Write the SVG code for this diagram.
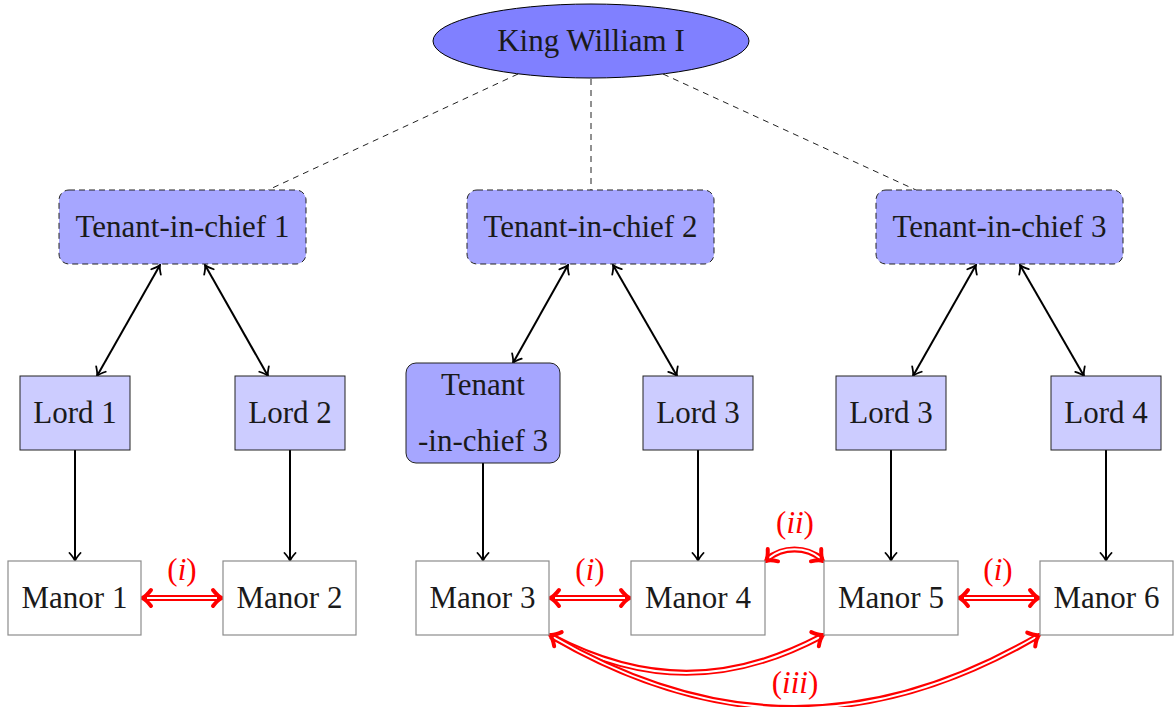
<svg xmlns="http://www.w3.org/2000/svg" width="1176" height="707" viewBox="0 0 1176 707">
<style>
.lbl{fill:#ff0000}
.it{font-style:italic}
.tic{fill:#a6a6ff;stroke:#222;stroke-width:1;stroke-dasharray:6 4}
.tic3{fill:#a6a6ff;stroke:#222;stroke-width:1}
.lord{fill:#ccccff;stroke:#222;stroke-width:1}
.manor{fill:#fff;stroke:#8c8c8c;stroke-width:1.2}
.dash{stroke:#222;stroke-width:1;stroke-dasharray:6 5;fill:none}
.arr{stroke:#000;stroke-width:2;fill:none;marker-start:url(#ah);marker-end:url(#ah)}
.down{stroke:#000;stroke-width:2;fill:none;marker-end:url(#ah)}
.rr{stroke:#ff0000;stroke-width:6;fill:none}
.rw{stroke:#fff;stroke-width:2;fill:none}
.rh{stroke:#ff0000;stroke-width:4;fill:none;stroke-linecap:round;stroke-linejoin:round}
</style>
<defs>
<marker id="ah" viewBox="-10 -7 12 14" refX="0" refY="0" markerWidth="12" markerHeight="14" markerUnits="userSpaceOnUse" orient="auto-start-reverse">
<path d="M-8,-5.5 Q-3,-1 0,0 Q-3,1 -8,5.5" stroke="#000" stroke-width="1.8" fill="none" stroke-linecap="round"/>
</marker>
<path id="rhd" d="M-9,-8 Q-4,-1.5 0,0 Q-4,1.5 -9,8"/>
</defs>

<g id="connectors">
<line class="dash" x1="518" y1="74" x2="268" y2="190"/>
<line class="dash" x1="591" y1="79" x2="591" y2="190"/>
<line class="dash" x1="663" y1="74" x2="916" y2="190"/>

<line class="arr" x1="160" y1="265" x2="97" y2="376"/>
<line class="arr" x1="205" y1="265" x2="268" y2="376"/>
<line class="arr" x1="568" y1="265" x2="513" y2="363"/>
<line class="arr" x1="613" y1="265" x2="677" y2="376"/>
<line class="arr" x1="976" y1="265" x2="913" y2="376"/>
<line class="arr" x1="1020" y1="265" x2="1084" y2="376"/>

<line class="down" x1="75" y1="450" x2="75" y2="561"/>
<line class="down" x1="290" y1="450" x2="290" y2="561"/>
<line class="down" x1="483" y1="463" x2="483" y2="561"/>
<line class="down" x1="698" y1="450" x2="698" y2="561"/>
<line class="down" x1="891" y1="450" x2="891" y2="561"/>
<line class="down" x1="1106" y1="450" x2="1106" y2="561"/>

<line class="rr" x1="145" y1="598" x2="219" y2="598"/>
<line class="rw" x1="147" y1="598" x2="217" y2="598"/>
<use href="#rhd" class="rh" transform="translate(142,598) rotate(180)"/>
<use href="#rhd" class="rh" transform="translate(222,598)"/>

<line class="rr" x1="553" y1="598" x2="627" y2="598"/>
<line class="rw" x1="555" y1="598" x2="625" y2="598"/>
<use href="#rhd" class="rh" transform="translate(550,598) rotate(180)"/>
<use href="#rhd" class="rh" transform="translate(630,598)"/>

<line class="rr" x1="962" y1="598" x2="1036" y2="598"/>
<line class="rw" x1="964" y1="598" x2="1034" y2="598"/>
<use href="#rhd" class="rh" transform="translate(959,598) rotate(180)"/>
<use href="#rhd" class="rh" transform="translate(1039,598)"/>

<path class="rr" d="M767,559.5 C782.6,546.2 806.4,546.2 822,559.5"/>
<path class="rw" d="M768.5,558.3 C782.6,546.2 806.4,546.2 820.5,558.3"/>
<use href="#rhd" class="rh" transform="translate(766,561) rotate(140)"/>
<use href="#rhd" class="rh" transform="translate(823,561) rotate(40)"/>

<path class="rr" d="M551,636 C644,685 729,685 822,636"/>
<path class="rw" d="M553,637 C644,685 729,685 820,637"/>
<path class="rr" d="M551,636 C716,732 873,732 1038,636"/>
<path class="rw" d="M553,637 C716,732 873,732 1036,637"/>
<use href="#rhd" class="rh" transform="translate(550,635) rotate(208)"/>
<use href="#rhd" class="rh" transform="translate(823,635) rotate(-28)"/>
<use href="#rhd" class="rh" transform="translate(1039,635) rotate(-30)"/>
</g>

<g id="labels">
<text class="lbl" font-family="Liberation Serif" font-size="31" text-anchor="middle" x="182" y="580">(<tspan class="it">i</tspan>)</text>
<text class="lbl" font-family="Liberation Serif" font-size="31" text-anchor="middle" x="590" y="580">(<tspan class="it">i</tspan>)</text>
<text class="lbl" font-family="Liberation Serif" font-size="31" text-anchor="middle" x="998" y="580">(<tspan class="it">i</tspan>)</text>
<text class="lbl" font-family="Liberation Serif" font-size="31" text-anchor="middle" x="795" y="533">(<tspan class="it">ii</tspan>)</text>
<text class="lbl" font-family="Liberation Serif" font-size="31" text-anchor="middle" x="795" y="693">(<tspan class="it">iii</tspan>)</text>
</g>

<g id="king">
<ellipse cx="591" cy="41" rx="158" ry="37" fill="#8080ff" stroke="#000" stroke-width="1"/>
<text font-family="Liberation Serif" font-size="31" text-anchor="middle" fill="#1a1a1a" x="591" y="51">King William I</text>
</g>

<g id="tic1"><rect class="tic" x="59" y="190" width="247" height="74" rx="10"/><text font-family="Liberation Serif" font-size="31" text-anchor="middle" fill="#1a1a1a" x="182.5" y="237">Tenant-in-chief 1</text></g>
<g id="tic2"><rect class="tic" x="467" y="190" width="247" height="74" rx="10"/><text font-family="Liberation Serif" font-size="31" text-anchor="middle" fill="#1a1a1a" x="590.5" y="237">Tenant-in-chief 2</text></g>
<g id="tic3"><rect class="tic" x="876" y="190" width="247" height="74" rx="10"/><text font-family="Liberation Serif" font-size="31" text-anchor="middle" fill="#1a1a1a" x="999.5" y="237">Tenant-in-chief 3</text></g>

<g id="lord1"><rect class="lord" x="20" y="376" width="110" height="74"/><text font-family="Liberation Serif" font-size="31" text-anchor="middle" fill="#1a1a1a" x="75" y="423">Lord 1</text></g>
<g id="lord2"><rect class="lord" x="235" y="376" width="110" height="74"/><text font-family="Liberation Serif" font-size="31" text-anchor="middle" fill="#1a1a1a" x="290" y="423">Lord 2</text></g>
<g id="tic3b"><rect class="tic3" x="406" y="363" width="154" height="100" rx="10"/><text font-family="Liberation Serif" font-size="31" text-anchor="middle" fill="#1a1a1a" x="483" y="395">Tenant</text><text font-family="Liberation Serif" font-size="31" text-anchor="middle" fill="#1a1a1a" x="483" y="451">-in-chief 3</text></g>
<g id="lord3"><rect class="lord" x="643" y="376" width="110" height="74"/><text font-family="Liberation Serif" font-size="31" text-anchor="middle" fill="#1a1a1a" x="698" y="423">Lord 3</text></g>
<g id="lord3b"><rect class="lord" x="836" y="376" width="110" height="74"/><text font-family="Liberation Serif" font-size="31" text-anchor="middle" fill="#1a1a1a" x="891" y="423">Lord 3</text></g>
<g id="lord4"><rect class="lord" x="1051" y="376" width="110" height="74"/><text font-family="Liberation Serif" font-size="31" text-anchor="middle" fill="#1a1a1a" x="1106" y="423">Lord 4</text></g>

<g id="manor1"><rect class="manor" x="8" y="561" width="133" height="74"/><text font-family="Liberation Serif" font-size="31" text-anchor="middle" fill="#1a1a1a" x="74.5" y="608">Manor 1</text></g>
<g id="manor2"><rect class="manor" x="223" y="561" width="133" height="74"/><text font-family="Liberation Serif" font-size="31" text-anchor="middle" fill="#1a1a1a" x="289.5" y="608">Manor 2</text></g>
<g id="manor3"><rect class="manor" x="416" y="561" width="133" height="74"/><text font-family="Liberation Serif" font-size="31" text-anchor="middle" fill="#1a1a1a" x="482.5" y="608">Manor 3</text></g>
<g id="manor4"><rect class="manor" x="631" y="561" width="134" height="74"/><text font-family="Liberation Serif" font-size="31" text-anchor="middle" fill="#1a1a1a" x="698" y="608">Manor 4</text></g>
<g id="manor5"><rect class="manor" x="824" y="561" width="134" height="74"/><text font-family="Liberation Serif" font-size="31" text-anchor="middle" fill="#1a1a1a" x="891" y="608">Manor 5</text></g>
<g id="manor6"><rect class="manor" x="1040" y="561" width="133" height="74"/><text font-family="Liberation Serif" font-size="31" text-anchor="middle" fill="#1a1a1a" x="1106.5" y="608">Manor 6</text></g>
</svg>
